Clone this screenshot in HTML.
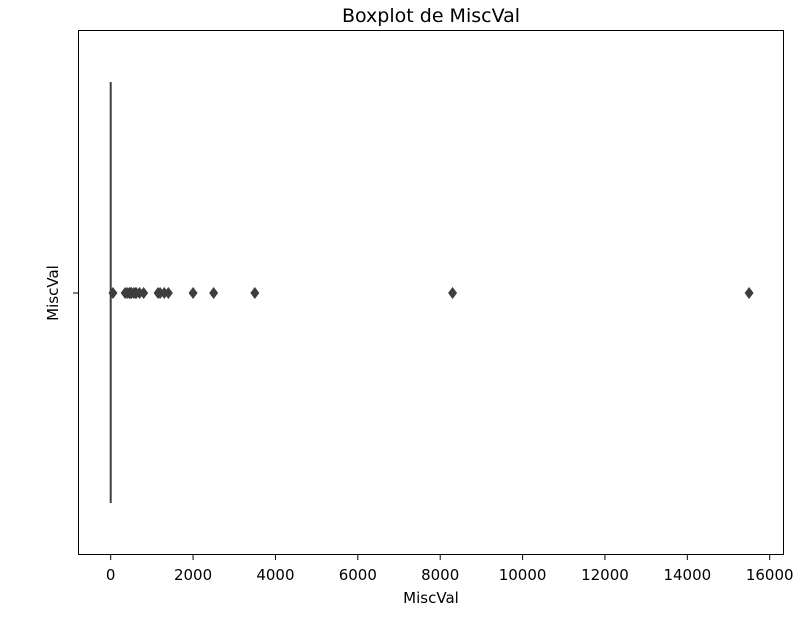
<!DOCTYPE html>
<html><head><meta charset="utf-8"><style>
body{margin:0;background:#fff;}
svg text{font-family:"DejaVu Sans","Liberation Sans",sans-serif;fill:#000;}
</style></head><body>
<svg width="811" height="620" viewBox="0 0 811 620" xmlns="http://www.w3.org/2000/svg">
<text x="431" y="22" font-size="19" text-anchor="middle">Boxplot de MiscVal</text>
<g id="xticks"></g>
<g id="marks"></g>
<rect x="78.5" y="30.5" width="705" height="524" fill="none" stroke="#000" stroke-width="1"/>
<line x1="73" y1="293" x2="78.5" y2="293" stroke="#000"/>
<text x="58" y="293" font-size="15" text-anchor="middle" transform="rotate(-90 58 293)">MiscVal</text>
<text x="431" y="603" font-size="15" text-anchor="middle">MiscVal</text>
</svg>
<script>
const xTicks=[0,2000,4000,6000,8000,10000,12000,14000,16000];
const boxStats=[0,0,0,0,0]; // whisker low, q1, median, q3, whisker high
const outliers=[54,350,400,450,480,500,560,600,620,700,800,1150,1200,1300,1400,2000,2500,3500,8300,15500];
const NS="http://www.w3.org/2000/svg";
function xs(v){return 110.7+v*(659/16000);}
const yTop=82,yBot=503,yMid=293;
const gx=document.getElementById('xticks');
xTicks.forEach(t=>{
 const l=document.createElementNS(NS,'line');
 l.setAttribute('x1',xs(t));l.setAttribute('x2',xs(t));l.setAttribute('y1',554.5);l.setAttribute('y2',560);l.setAttribute('stroke','#000');
 
 
 gx.appendChild(l);
 const tx=document.createElementNS(NS,'text');
 tx.setAttribute('x',xs(t));tx.setAttribute('y',580);tx.setAttribute('font-size','15');tx.setAttribute('text-anchor','middle');
 tx.textContent=t;
 
 
 gx.appendChild(tx);
});
const gm=document.getElementById('marks');
const b=document.createElementNS(NS,'rect');
b.setAttribute('x',xs(boxStats[1])-1);b.setAttribute('width',Math.max(2,xs(boxStats[3])-xs(boxStats[1])+2));
b.setAttribute('y',yTop);b.setAttribute('height',yBot-yTop);b.setAttribute('fill','#3f3f3f');


gm.appendChild(b);
outliers.forEach(v=>{
 const p=document.createElementNS(NS,'polygon');
 const x=xs(v);
 p.setAttribute('points',`${x},${yMid-6} ${x+4.5},${yMid} ${x},${yMid+6} ${x-4.5},${yMid}`);
 p.setAttribute('fill','#3d3d3d');
 
 
 gm.appendChild(p);
});
</script>
</body></html>
